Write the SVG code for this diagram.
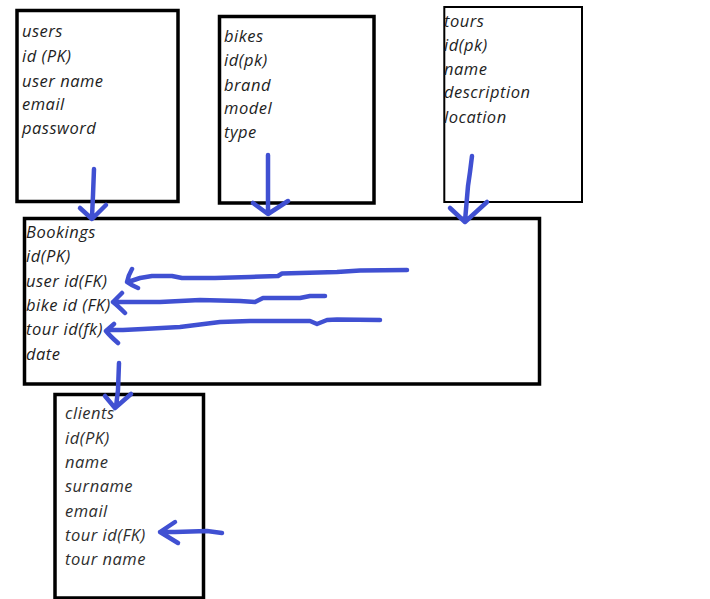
<svg xmlns="http://www.w3.org/2000/svg" width="710" height="599" viewBox="0 0 710 599">
<style>
.box{fill:#fff;stroke:#000;stroke-width:3.5}
.thin{stroke-width:2}
.t{font-family:"Open Sans","Noto Sans","DejaVu Sans",sans-serif;font-style:italic;font-size:16.5px;letter-spacing:0.5px;fill:#1e1e1e}
.c{fill:#2e2e2e}
.ink{fill:none;stroke:#4050d2;stroke-width:4.5;stroke-linecap:round;stroke-linejoin:round}
</style>
<rect width="710" height="599" fill="#fff"/>
<g id="users">
<rect class="box" x="17" y="10.5" width="161" height="191"/>
<text class="t" x="22" y="37">users</text>
<text class="t" x="22" y="62">id (PK)</text>
<text class="t" x="22" y="87">user name</text>
<text class="t" x="22" y="110">email</text>
<text class="t" x="22" y="134">password</text>
</g>
<g id="bikes">
<rect class="box" x="219.5" y="16.5" width="154.5" height="186.5"/>
<text class="t" x="224" y="42">bikes</text>
<text class="t" x="224" y="66">id(pk)</text>
<text class="t" x="224" y="91">brand</text>
<text class="t" x="224" y="114">model</text>
<text class="t" x="224" y="138">type</text>
</g>
<g id="tours">
<rect class="box thin" x="444.3" y="7" width="137.7" height="195"/>
<text class="t" x="444" y="27">tours</text>
<text class="t" x="444" y="51">id(pk)</text>
<text class="t" x="444" y="75">name</text>
<text class="t" x="444" y="98">description</text>
<text class="t" x="444" y="123">location</text>
</g>
<g id="bookings">
<rect class="box" x="24.5" y="218.5" width="515" height="165.5"/>
<text class="t" x="26" y="238">Bookings</text>
<text class="t" x="26" y="262">id(PK)</text>
<text class="t" x="26" y="287">user id(FK)</text>
<text class="t" x="26" y="311">bike id (FK)</text>
<text class="t" x="26" y="335">tour id(fk)</text>
<text class="t" x="26" y="360">date</text>
</g>
<g id="clients">
<rect class="box" x="55" y="394.5" width="148.5" height="203.5"/>
<text class="t c" x="65" y="419">clients</text>
<text class="t c" x="65" y="444">id(PK)</text>
<text class="t c" x="65" y="468">name</text>
<text class="t c" x="65" y="492">surname</text>
<text class="t c" x="65" y="517">email</text>
<text class="t c" x="65" y="541">tour id(FK)</text>
<text class="t c" x="65" y="565">tour name</text>
</g>
<g id="connectors">
<path class="ink" d="M94,169 L93,195 L92,217 M80,208 L92,219 L106,205"/>
<path class="ink" d="M268,155 L268,213 M253,203 L268,214 L288,201"/>
<path class="ink" d="M472,156 L470,172 L468,186 L465,221 M450,208 L465,222 L487,202"/>
<path class="ink" d="M119,363 L118,390 L116,407 M105,396 L115,408 L131,394"/>
<path class="ink" d="M407,270 L360,270.5 L337,272 L282,273.5 L278,276 L250,277 L215,278 L182,278 L172,276 L152,276 L140,278 L128,282 M132,269 Q128,276 127,282 Q131,285 138,288"/>
<path class="ink" d="M325,296 L310,296 L300,298 L263,298 L255,302 L240,301 L200,300 L180,301 L160,302 L120,302 L113,302 M122,293 L113,302 Q118,306 125,313"/>
<path class="ink" d="M380,320 L337,319.5 L327,320 L317,324 L310,321 L250,321 L220,322 L180,327 L143,329 L123,330 L107,330 M114,324 L106,331 Q110,336 118,343"/>
<path class="ink" d="M222,533 L207,531 L175,532 L160,532 M175,522 L160,532 L178,543"/>
</g>
</svg>
